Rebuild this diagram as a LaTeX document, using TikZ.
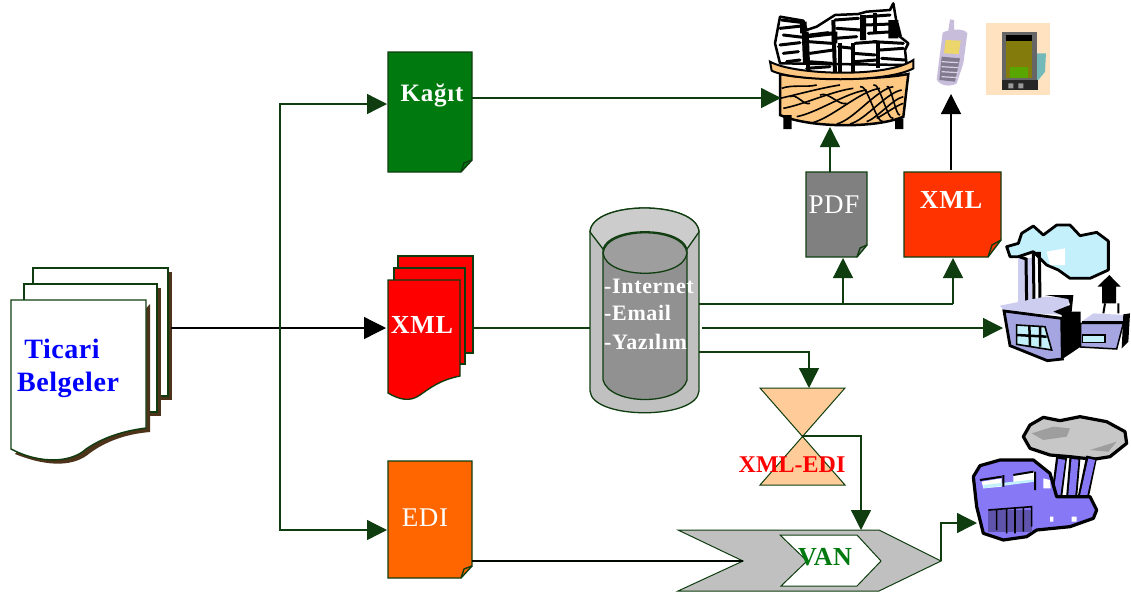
\documentclass[tikz,border=0pt]{standalone}
\usepackage{fontspec}
\setmainfont{Liberation Serif}
\usetikzlibrary{arrows.meta}
\definecolor{dg}{RGB}{15,61,15}
\definecolor{kagit}{RGB}{0,122,15}
\definecolor{edic}{RGB}{255,102,0}
\definecolor{xmlo}{RGB}{255,51,0}
\definecolor{pdfg}{RGB}{128,128,128}
\definecolor{hg}{RGB}{255,204,153}
\definecolor{cyl}{RGB}{192,192,192}
\definecolor{cylin}{RGB}{145,145,145}
\definecolor{tanb}{RGB}{255,200,130}
\definecolor{fac}{RGB}{165,165,225}
\definecolor{facl}{RGB}{205,205,240}
\definecolor{facb}{RGB}{135,120,245}
\definecolor{sky}{RGB}{195,240,250}
\definecolor{lil}{RGB}{200,190,220}
\tikzset{
  x=1pt,y=-1pt,
  ln/.style={draw=dg,line width=1.3pt},
  gar/.style={ln,-{Triangle[length=20pt,width=20pt,fill=dg]}},
  bar/.style={draw=black,line width=1.3pt,-{Triangle[length=20pt,width=20pt,fill=black]}},
  doc/.style={draw=dg,line width=1.4pt,line join=miter},
  lab/.style={font=\fontsize{#1}{#1}\selectfont\bfseries\addfontfeature{LetterSpace=3},text=white,inner sep=0pt},
  labr/.style={font=\fontsize{#1}{#1}\selectfont\addfontfeature{LetterSpace=2},text=white,inner sep=0pt},
  stub/.style={inner sep=0pt,minimum size=0pt},
  zm/.style={x=0.33333pt,y=-0.33333pt,shift={#1}},
}
\begin{document}
\begin{tikzpicture}
\useasboundingbox (0,0) rectangle (1131,598);
\fill[white] (0,0) rectangle (1131,598);

% ---- Ticari Belgeler stack
\fill[black!60!brown] (37,272) rectangle (172,400);
\filldraw[doc,fill=white] (33,268) -- (168,268) -- (168,396) -- (33,396) -- cycle;
\fill[black!60!brown] (28,288) rectangle (161,416);
\filldraw[doc,fill=white] (24,284) -- (157,284) -- (157,412) -- (24,412) -- cycle;
\fill[black!60!brown] (150,304) -- (150,432) .. controls (125,434) and (105,442) .. (90,453) .. controls (75,466) and (50,468) .. (15,454) -- cycle;
\filldraw[doc,fill=white] (11,300) -- (146,300) -- (146,428) .. controls (122,431) and (102,438) .. (86,449) .. controls (72,462) and (42,465) .. (11,449) -- cycle;
\node[stub,text=blue,font=\fontsize{28}{28}\selectfont\bfseries\addfontfeature{LetterSpace=2}] (tic) at (62,349) {Ticari};
\node[stub,text=blue,font=\fontsize{28}{28}\selectfont\bfseries\addfontfeature{LetterSpace=2}] (bel) at (68,385) {Belgeler};
\coordinate (stackout) at (171,328);

% ---- Kagit
\filldraw[doc,fill=kagit] (388,52) -- (472,52) -- (472,160) -- (461,172) -- (388,172) -- cycle;
\draw[doc] (472,160) -- (464,163) -- (461,172);
\node[lab=25] (kagit) at (432,95) {Kağıt};

% ---- XML stack
\filldraw[doc,fill=red] (398,256) -- (473,256) -- (473,353) -- (398,353) -- cycle;
\filldraw[doc,fill=red] (394,268) -- (465,268) -- (465,364) -- (394,364) -- cycle;
\filldraw[doc,fill=red] (388,280) -- (460,280) -- (460,376) .. controls (440,380) and (430,388) .. (420,395) .. controls (410,402) and (400,400) .. (388,393) -- cycle;
\node[lab=26] (xmlm) at (422,325) {XML};

% ---- EDI
\filldraw[doc,fill=edic] (388,461) -- (472,461) -- (472,566) -- (461,578) -- (388,578) -- cycle;
\draw[doc] (472,566) -- (464,569) -- (461,578);
\node[labr=27] (edi) at (425,518) {EDI};

% ---- Cylinder
\filldraw[ln,fill=cyl] (590,232) .. controls (592,200) and (697,200) .. (699,232) -- (699,391) .. controls (697,420) and (592,420) .. (590,391) -- cycle;
\fill[black!20] (590,232) .. controls (592,200) and (697,200) .. (699,232) -- (687,249) .. controls (680,226) and (610,226) .. (603,249) -- cycle;
\draw[ln] (590,232) .. controls (592,200) and (697,200) .. (699,232);
\draw[ln] (590,232) -- (603,249) (699,232) -- (687,249);
\filldraw[ln,fill=cylin] (603,249) .. controls (610,226) and (680,226) .. (687,249) -- (687,380) .. controls (680,406) and (610,406) .. (603,380) -- cycle;
\filldraw[ln,fill=black!38] (603,253) .. controls (606,226) and (684,226) .. (687,253) .. controls (684,280) and (606,280) .. (603,253) -- cycle;
\node[lab=22,anchor=west] (cyl1) at (604,286) {-Internet};
\node[lab=22,anchor=west] (cyl2) at (604,313) {-Email};
\node[lab=22,anchor=west] (cyl3) at (604,342) {-Yazılım};
\coordinate (cylW) at (590,328);
\coordinate (cylA) at (699,304);
\coordinate (cylB) at (702,328);
\coordinate (cylC) at (699,352);

% ---- PDF / XML boxes
\filldraw[doc,fill=pdfg] (806,172) -- (867,172) -- (867,245) -- (857,257) -- (806,257) -- cycle;
\draw[doc] (867,245) -- (860,248) -- (857,257);
\node[labr=27] (pdf) at (834,205) {PDF};
\filldraw[doc,fill=xmlo] (904,172) -- (1001,172) -- (1001,240) -- (988,257) -- (904,257) -- cycle;
\draw[doc] (1001,240) -- (992,245) -- (988,257);
\node[lab=26] (xmlo) at (951,200) {XML};

% ---- Hourglass
\filldraw[draw=dg,line width=1pt,fill=hg] (760,388) -- (845,388) -- (760,485) -- (845,485) -- cycle;
\node[stub,text=red,font=\fontsize{24}{24}\selectfont\bfseries] (xe) at (792,465) {XML-EDI};
\coordinate (hgT) at (809,388);
\coordinate (hgC) at (802,436);

% ---- VAN
\filldraw[draw=dg,line width=1pt,fill=cyl] (678,530) -- (879,530) -- (941,561) -- (879,591) -- (678,591) -- (743,561) -- cycle;
\filldraw[draw=dg,line width=1pt,fill=white] (780,535) -- (857,535) -- (881,561) -- (857,586) -- (781,586) -- (807,561) -- cycle;
\node[stub,text=kagit,font=\fontsize{26}{26}\selectfont\bfseries\addfontfeature{LetterSpace=2}] (van) at (825,557) {VAN};
\coordinate (vanT) at (861,530);
\coordinate (vanW) at (743,561);
\coordinate (vanE) at (941,561);

% ---- Basket (coordinates in 3x crop, origin 760,0)
\begin{scope}[zm={(760pt,0pt)}]
\filldraw[draw=black,line width=2.5pt,line join=round,fill=white] (60,190) -- (45,130) -- (60,50) -- (130,62) -- (140,90) -- (170,80) -- (225,45) -- (295,42) -- (320,35) -- (390,30) -- (400,10) -- (410,70) -- (420,110) -- (445,130) -- (435,150) -- (440,195) -- cycle;
\foreach \a/\b/\c/\d in {65/60/130/68, 60/85/125/78, 70/105/130/112, 60/135/120/128, 70/160/115/155, 80/185/120/180,
 150/105/205/98, 145/125/215/130, 150/160/220/150, 145/185/215/190, 140/205/210/200,
 225/60/295/55, 230/85/300/90, 225/115/290/110, 235/140/280/145, 285/130/350/125, 280/160/345/165, 285/185/350/180,
 320/50/390/45, 315/75/395/72, 325/100/400/95, 340/125/430/130, 360/150/430/145, 365/175/435/180}{
  \draw[black,line width=3pt,line cap=round] (\a,\b) -- (\c,\d);
}
\foreach \a/\b/\c/\d in {130/70/135/190, 140/95/145/215, 220/60/225/225, 240/130/240/225, 280/130/280/220, 305/50/310/120, 355/125/355/205, 130/110/220/100, 420/110/410/70, 345/40/345/100}{
  \draw[black,line width=4pt] (\a,\b) -- (\c,\d);
}
\fill[black] (300,45) rectangle (318,120) (120,65) rectangle (140,100) (385,60) rectangle (415,115) (215,95) rectangle (232,130);
\filldraw[draw=black,line width=2.5pt,fill=tanb] (60,222) .. controls (150,240) and (350,240) .. (445,222) -- (430,350) .. controls (350,385) and (150,385) .. (60,345) -- cycle;
\filldraw[draw=black,line width=2pt,fill=tanb] (30,185) .. controls (100,225) and (380,235) .. (460,180) -- (460,205) .. controls (380,250) and (100,245) .. (35,212) -- cycle;
\fill[black] (70,345) rectangle (95,387) (405,355) rectangle (430,387);
\foreach \a/\b/\c/\d in {65/265/170/255, 60/295/240/255, 70/325/280/265, 110/350/320/270, 150/370/360/265, 230/372/400/260, 270/372/425/270, 320/365/430/290, 350/355/430/310, 380/260/420/345, 340/255/400/355, 300/260/370/365, 90/290/150/310, 180/285/260/310}{
  \draw[black,line width=1.6pt] (\a,\b) .. controls ({\a+0.3*(\c-\a)},{\b-12}) and ({\a+0.7*(\c-\a)},{\d+8}) .. (\c,\d);
}
\end{scope}

% ---- Phone (same crop)
\begin{scope}[zm={(760pt,0pt)}]
\fill[lil] (570,58) -- (582,60) -- (582,90) -- (565,90) -- cycle;
\fill[lil] (548,98) .. controls (570,85) and (615,85) .. (622,100) -- (610,190) -- (590,250) .. controls (570,262) and (540,258) .. (530,238) -- cycle;
\fill[black!35!lil] (545,170) -- (600,175) -- (585,245) -- (538,240) -- cycle;
\fill[yellow!55!brown!70] (557,120) -- (602,122) -- (596,162) -- (552,160) -- cycle;
\foreach \i in {185,200,215,230}{\draw[lil!70!white,line width=1.2pt] (545,\i) -- (595,\i+3);}
\end{scope}

% ---- PDA
\begin{scope}[zm={(760pt,0pt)}]
\fill[tanb!50!white] (678,70) rectangle (870,285);
\fill[teal!55!white] (825,160) -- (858,160) -- (855,215) -- (835,240) -- (825,240) -- cycle;
\fill[black!60] (725,95) rectangle (830,270);
\fill[black] (737,105) rectangle (815,122);
\fill[olive!90!black] (737,122) rectangle (815,235);
\fill[green!30!olive] (750,200) rectangle (805,235);
\fill[black!85] (725,240) rectangle (835,270);
\fill[black!40] (745,250) rectangle (760,265) (775,250) rectangle (790,265);
\end{scope}

% ---- Factory 1 (3x crop, origin 990,215)
\begin{scope}[zm={(990pt,-215pt)}]
\filldraw[draw=black,line width=2.8pt,line join=round,fill=sky] (50,95) -- (85,85) -- (95,55) -- (130,33) -- (160,60) -- (200,30) -- (240,30) -- (270,62) -- (320,52) -- (355,78) -- (355,165) -- (300,190) -- (240,190) -- (205,165) -- (170,150) -- (130,110) -- (85,125) -- (60,125) -- cycle;
\fill[white] (170,110) -- (225,100) -- (225,150) -- (180,150) -- cycle;
\fill[facl] (85,130) rectangle (125,270);
\draw[black,line width=3pt] (88,125) -- (108,132) -- (110,270) (128,115) -- (148,115) -- (150,260);
\draw[black,line width=3pt] (130,115) -- (132,265);
\fill[facl] (30,272) -- (165,245) -- (240,250) -- (225,300) -- (45,290) -- cycle;
\fill[black] (165,240) -- (250,240) -- (245,290) -- (215,300) -- (190,290) -- (240,270) -- (235,252) -- cycle;
\filldraw[draw=black,line width=2.8pt,fill=fac] (42,288) -- (215,310) -- (217,432) -- (172,437) -- (60,392) -- cycle;
\fill[black] (215,290) -- (272,290) -- (272,395) -- (217,432) -- cycle;
\filldraw[draw=black,line width=1.6pt,fill=sky] (80,330) -- (165,335) -- (185,405) -- (80,388) -- cycle;
\draw[black,line width=2.5pt] (118,332) -- (120,395) (80,360) -- (170,365) (150,335) -- (150,395);
\fill[facl] (275,320) -- (310,295) -- (405,300) -- (400,325) -- cycle;
\draw[black,line width=2.5pt] (275,322) -- (400,322);
\filldraw[draw=black,line width=1.5pt,fill=fac] (272,325) -- (400,325) -- (380,402) -- (272,396) -- cycle;
\filldraw[draw=black,line width=1.2pt,fill=sky] (277,360) -- (345,360) -- (345,382) -- (277,382) -- cycle;
\fill[black] (400,298) -- (420,295) -- (415,380) -- (395,400) -- cycle;
\fill[black] (358,180) -- (392,215) -- (378,215) -- (378,265) -- (336,265) -- (336,215) -- (322,215) -- cycle;
\draw[black,line width=2pt] (345,265) -- (340,295) (385,265) -- (385,295);
\end{scope}

% ---- Factory 2 (3x crop, origin 660,300)
\begin{scope}[zm={(660pt,-300pt)}]
\filldraw[draw=black,line width=3.2pt,line join=round,fill=black!22] (1090,410) -- (1110,375) -- (1150,352) -- (1200,362) -- (1260,350) -- (1340,365) -- (1395,395) -- (1400,430) -- (1350,470) -- (1300,478) -- (1230,470) -- (1170,465) -- (1110,445) -- cycle;
\fill[black!38] (1115,400) -- (1180,380) -- (1230,385) -- (1220,410) -- (1150,420) -- cycle (1290,450) -- (1370,425) -- (1345,455) -- cycle;
\foreach \a/\b in {1205/1190,1245/1235,1295/1270}{
  \draw[black,line width=11pt] (\a,470) -- (\b,590);
  \draw[facb,line width=7pt] (\a,478) -- (\b,590);
}
\filldraw[draw=black,line width=3.2pt,line join=round,fill=facb] (940,530) -- (960,497) -- (1020,480) -- (1120,480) -- (1170,520) -- (1190,590) -- (1290,590) -- (1310,630) -- (1300,655) -- (1230,680) -- (1130,690) -- (1100,710) -- (1030,720) -- (970,700) -- (950,620) -- cycle;
\fill[white] (965,545) -- (1025,535) -- (1025,560) -- (970,565) -- cycle (1060,525) -- (1125,515) -- (1125,545) -- (1060,550) -- cycle (1150,535) -- (1170,540) -- (1172,565) -- (1150,565) -- cycle;
\fill[sky] (970,555) -- (1125,538) -- (1125,545) -- (970,565) -- cycle;
\draw[black,line width=2pt] (1030,525) -- (1030,560) (1060,525) -- (1120,515) (1125,515) -- (1125,570) (960,540) -- (1025,530);
\fill[facb!70!black] (985,630) rectangle (1115,695);
\draw[black,line width=1.6pt] (985,630) -- (1115,620) -- (1115,680) (1010,630) -- (1010,690) (1040,628) -- (1040,700) (1065,626) -- (1065,700) (1090,624) -- (1090,695);
\fill[white] (1170,650) rectangle (1180,665) (1235,650) rectangle (1250,665);
\end{scope}

% ---- Connectors
\coordinate (xmlin) at (386,328);
\draw[draw=black,line width=1.3pt,-{Triangle[length=22pt,width=22pt,fill=black]}] (stackout) -- (xmlin);
\coordinate (jn) at (280,328);
\draw[gar] (jn) -- (280,104) -- (387,104);
\draw[gar] (jn) -- (280,530) -- (387,530);
\draw[gar] (472,98) -- (781,98);
\draw[ln] (473,328) -- (cylW);
\draw[ln] (cylA) -- (953,304);
\draw[gar] (843,304) -- (843,258);
\draw[gar] (953,304) -- (953,258);
\draw[gar] (cylB) -- (1003,328);
\draw[gar] (cylC) -- (809,352) -- (hgT);
\draw[gar] (hgC) -- (861,436) -- (vanT);
\draw[draw=black!85!dg,line width=1.3pt] (472,561) -- (vanW);
\draw[gar] (vanE) -- (941,523) -- (977,523);
\draw[gar] (830,172) -- (830,127);
\draw[bar] (951,170) -- (951,94);
\end{tikzpicture}
\end{document}
